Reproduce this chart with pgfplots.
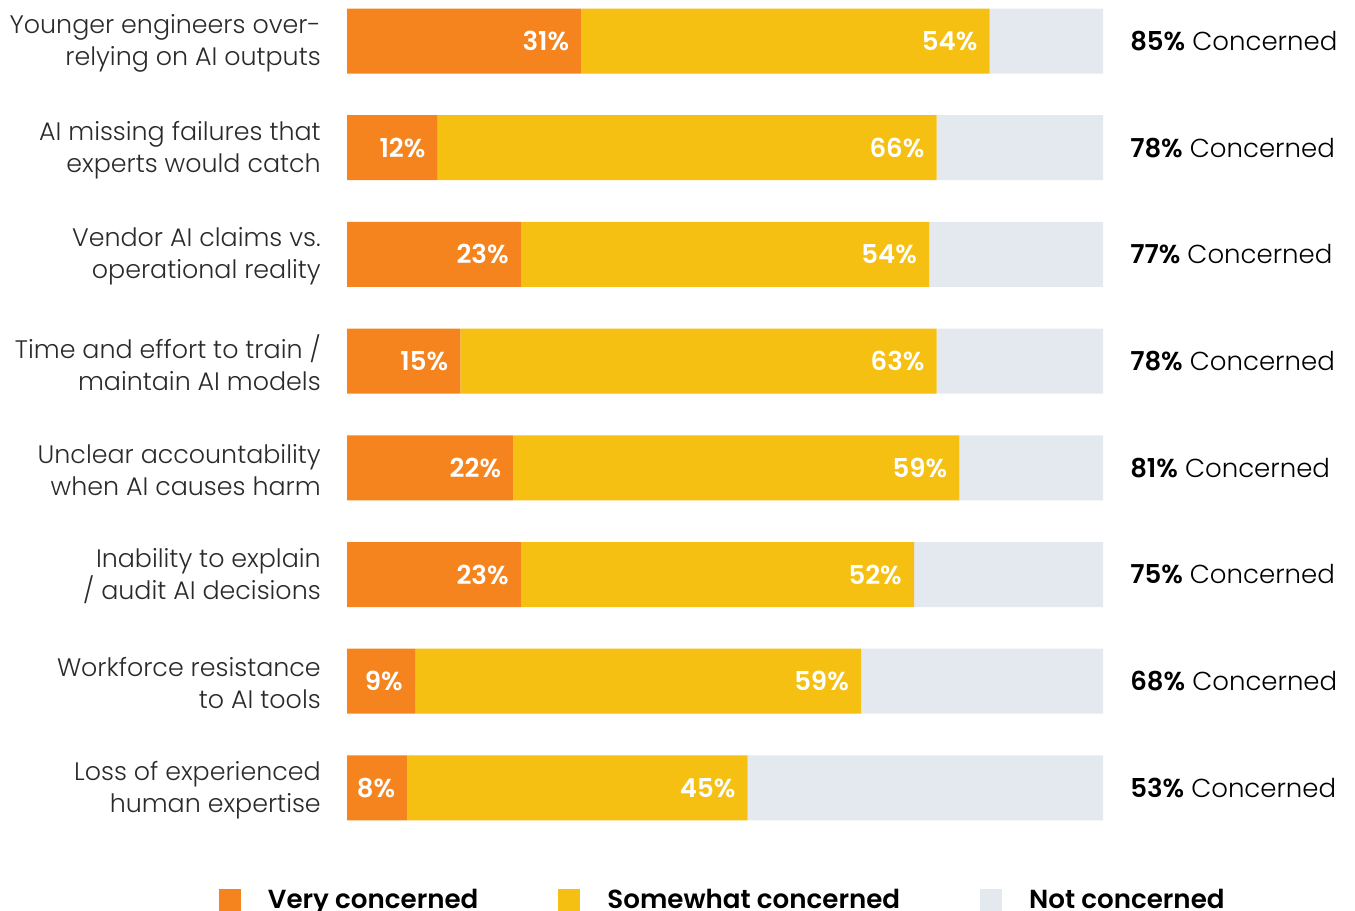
\documentclass[border=0pt]{standalone}
\usepackage{fontspec}
\setmainfont{Poppins}[UprightFont=* Light, BoldFont=* SemiBold]
\usepackage{pgfplots}
\usepackage{pgfplotstable}
\pgfplotsset{compat=1.18}
\definecolor{vc}{HTML}{F5841F}
\definecolor{sc}{HTML}{F5C011}
\definecolor{nc}{HTML}{E4E9F0}
\definecolor{lab}{HTML}{2A2A2A}
\pgfplotstableread{
i very some not total
0 31 54 15 85
1 12 66 22 78
2 23 54 23 77
3 15 63 22 78
4 22 59 19 81
5 23 52 25 75
6 9 59 32 68
7 8 45 47 53
}\data
\pgfplotsset{
  base/.style={
    at={(260.25pt,9.26pt)}, anchor=north west,
    scale only axis, width=567pt, height=640.2pt,
    bar width=48.75pt,
    xmin=0, xmax=100, ymin=-0.5, ymax=7.5, y dir=reverse,
    axis line style={draw=none}, major tick length=0pt,
    xtick=\empty, clip=false,
  }
}
\begin{document}
\begin{tikzpicture}
\path[use as bounding box] (0,0) rectangle (1016.25pt,-682.5pt);
\begin{axis}[
  base,
  xbar stacked,
  ytick={0,...,7},
  yticklabels={{Younger engineers over-\\relying on AI outputs},{AI missing failures that\\experts would catch},{Vendor AI claims vs.\\operational reality},{Time and effort to train /\\maintain AI models},{Unclear accountability\\when AI causes harm},{Inability to explain\\/ audit AI decisions},{Workforce resistance\\to AI tools},{Loss of experienced\\human expertise}},
  y tick label style={align=right, anchor=east, inner sep=0pt, xshift=-19.5pt, yshift=-1.5pt, text=lab, font=\fontsize{19pt}{24pt}\selectfont},
  legend style={at={(-0.175,-0.052)}, anchor=north west, draw=none, fill=none, legend columns=3,
    font=\fontsize{19.6pt}{24pt}\selectfont\bfseries,
    /tikz/every even column/.append style={column sep=60pt},
    /tikz/every odd column/.append style={column sep=0pt},
    nodes={inner sep=0pt}},
  legend image code/.code={\fill[#1] (0pt,-8.25pt) rectangle (16.5pt,8.25pt); \path (16.5pt,0) -- (36.75pt,0);},
]
\addplot+[fill=vc, draw=none] table[x=very, y=i] {\data};
\addplot+[fill=sc, draw=none] table[x=some, y=i] {\data};
\addplot+[fill=nc, draw=none] table[x=not, y=i] {\data};
\legend{Very concerned, Somewhat concerned, Not concerned}
\foreach \t [count=\k from 0] in {85,78,77,78,81,75,68,53}{
  \edef\tmp{\noexpand\node[anchor=west, inner sep=0pt, text=black, font=\noexpand\fontsize{19.5pt}{24pt}\noexpand\selectfont] at (axis cs:100,\k) [xshift=20.25pt] {\noexpand\textbf{\t\noexpand\%} Concerned};}
  \tmp
}
\end{axis}
\begin{axis}[
  base,
  xbar, bar shift=0pt,
  ytick=\empty,
  point meta=explicit symbolic,
  nodes near coords={\bfseries\pgfplotspointmeta\%},
  every node near coord/.append style={anchor=east, inner sep=0pt, xshift=-9pt, text=white, font=\fontsize{19.5pt}{24pt}\selectfont},
]
\addplot[draw=none, fill=none] table[x=very, y=i, meta=very] {\data};
\addplot[draw=none, fill=none] table[x=total, y=i, meta=some] {\data};
\end{axis}
\end{tikzpicture}
\end{document}
